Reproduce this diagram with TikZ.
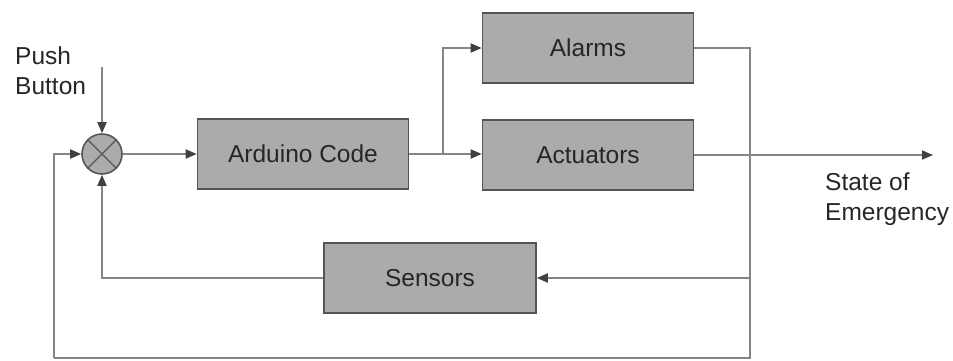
\documentclass[tikz,border=0pt]{standalone}
\usepackage{fontspec}
\setmainfont{Liberation Sans}
\usetikzlibrary{arrows.meta}
\definecolor{boxfill}{HTML}{ABABAB}
\definecolor{boxdraw}{HTML}{555555}
\definecolor{wire}{HTML}{858585}
\definecolor{tipc}{HTML}{404040}
\tikzset{
  blk/.style={draw=boxdraw, line width=1.6pt, fill=boxfill, minimum width=211pt, minimum height=70pt, inner sep=0pt, font=\fontsize{24.5}{29}\selectfont, text=black!85},
  wirel/.style={draw=wire, line width=1.8pt},
  arr/.style={wirel, -{Triangle[length=11pt,width=9pt,color=tipc]}},
  lbl/.style={font=\fontsize{24.5}{30}\selectfont, align=left, inner sep=0pt, text=black!85},
}
\begin{document}
\begin{tikzpicture}[x=1pt,y=-1pt]
\useasboundingbox (0,0) rectangle (953,360);
\node[circle, draw=boxdraw, line width=1.6pt, fill=boxfill, minimum size=40pt, inner sep=0pt] (sum) at (102,154) {};
\draw[draw=boxdraw, line width=1.4pt] (sum.north west) -- (sum.south east) (sum.north east) -- (sum.south west);
\node[lbl, anchor=north west] (pb) at (15,47) {Push\\Button};
\coordinate (pbtop) at (102,67);
\node[blk] (ard) at (303,154) {Arduino Code};
\coordinate (split) at (443,154);
\node[blk] (alm) at (588,48) {Alarms};
\node[blk] (act) at (588,155) {Actuators};
\coordinate (jA) at (750,48);
\coordinate (jB) at (750,155);
\coordinate (out) at (933,155);
\node[blk, minimum width=212pt] (sen) at (430,278) {Sensors};
\coordinate (jS) at (750,278);
\coordinate (bR) at (750,358);
\coordinate (bL) at (54,358);
\node[lbl, anchor=north west] (soe) at (825,173) {State of\\Emergency};

\draw[arr] (pbtop) -- (sum.north);
\draw[arr] (sum.east) -- (ard.west);
\draw[wirel] (ard.east) -- (split);
\draw[arr] (split) -- (act.west |- split);
\draw[arr] (split) |- (alm.west);
\draw[wirel] (alm.east) -- (jA) -- (bR) -- (bL);
\draw[arr] (bL) |- (sum.west);
\draw[arr] (act.east) -- (out);
\draw[arr] (jS) -- (sen.east);
\draw[arr] (sen.west) -| (sum.south);
\end{tikzpicture}
\end{document}
